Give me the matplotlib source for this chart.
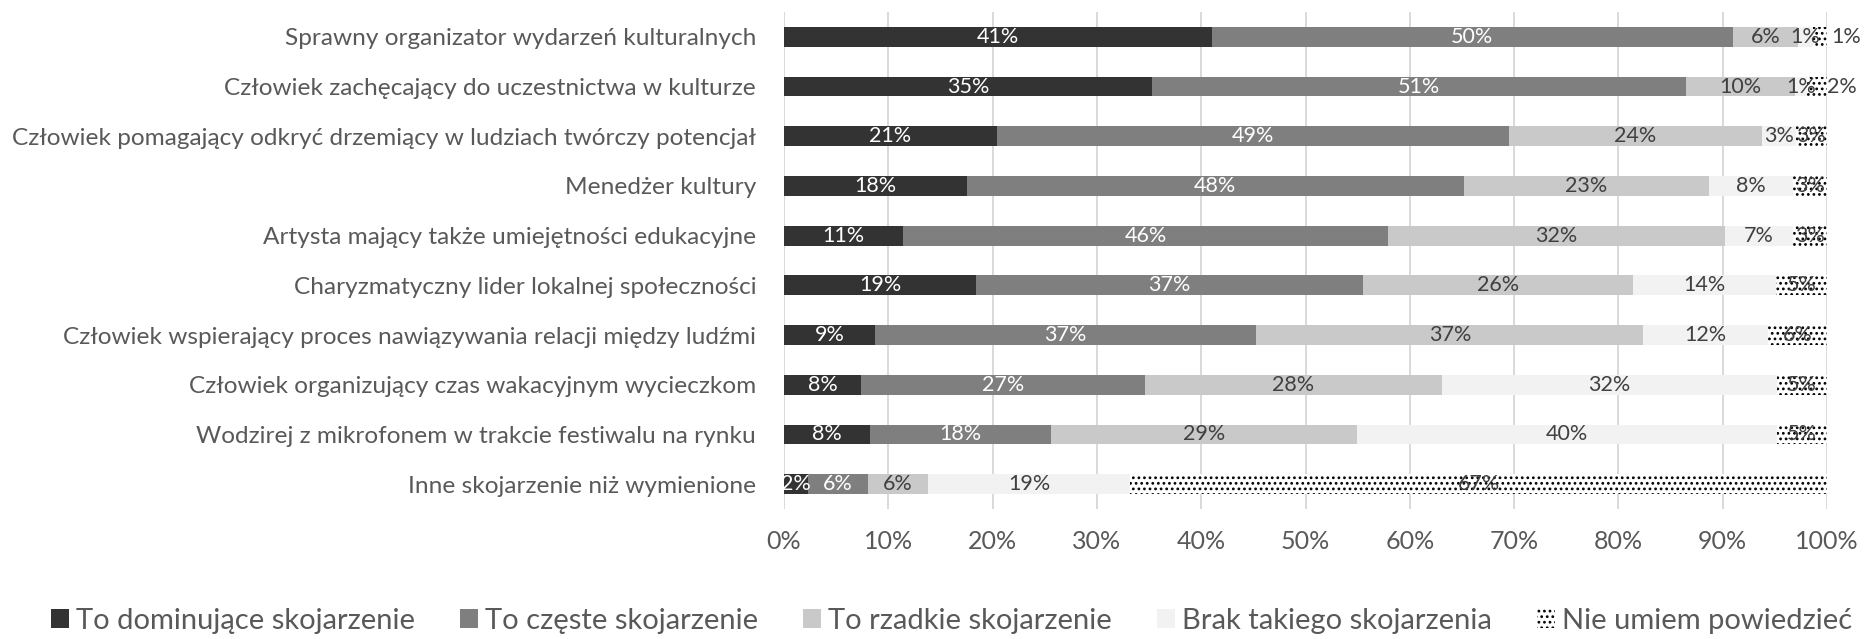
import matplotlib
matplotlib.use("Agg")
import matplotlib.pyplot as plt
import numpy as np
from matplotlib.patches import Patch

plt.rcParams['font.family'] = ['Lato', 'DejaVu Sans']
plt.rcParams['hatch.linewidth'] = 1.2

categories = [
    "Sprawny organizator wydarzeń kulturalnych",
    "Człowiek zachęcający do uczestnictwa w kulturze",
    "Człowiek pomagający odkryć drzemiący w ludziach twórczy potencjał",
    "Menedżer kultury",
    "Artysta mający także umiejętności edukacyjne",
    "Charyzmatyczny lider lokalnej społeczności",
    "Człowiek wspierający proces nawiązywania relacji między ludźmi",
    "Człowiek organizujący czas wakacyjnym wycieczkom",
    "Wodzirej z mikrofonem w trakcie festiwalu na rynku",
    "Inne skojarzenie niż wymienione",
]
series_names = ["To dominujące skojarzenie", "To częste skojarzenie",
                "To rzadkie skojarzenie", "Brak takiego skojarzenia", "Nie umiem powiedzieć"]
dominujace = [41.0, 35.3, 20.4, 17.5, 11.4, 18.4, 8.7, 7.4, 8.2, 2.3]
czeste     = [50.0, 51.2, 49.1, 47.7, 46.5, 37.1, 36.6, 27.2, 17.4, 5.8]
rzadkie    = [6.2, 10.4, 24.3, 23.5, 32.3, 25.9, 37.1, 28.5, 29.3, 5.7]
brak       = [1.5, 1.2, 3.2, 8.0, 6.5, 13.7, 11.9, 32.1, 40.3, 19.4]
nie_wiem   = [1.3, 1.9, 3.0, 3.3, 3.3, 4.9, 5.7, 4.8, 4.8, 66.8]
labels_dom = ["41%", "35%", "21%", "18%", "11%", "19%", "9%", "8%", "8%", "2%"]
labels_cz  = ["50%", "51%", "49%", "48%", "46%", "37%", "37%", "27%", "18%", "6%"]
labels_rz  = ["6%", "10%", "24%", "23%", "32%", "26%", "37%", "28%", "29%", "6%"]
labels_br  = ["1%", "1%", "3%", "8%", "7%", "14%", "12%", "32%", "40%", "19%"]
labels_nw  = ["1%", "2%", "3%", "3%", "3%", "5%", "6%", "5%", "5%", "67%"]
x_ticks = [0, 10, 20, 30, 40, 50, 60, 70, 80, 90, 100]

series = [dominujace, czeste, rzadkie, brak, nie_wiem]
series_labels = [labels_dom, labels_cz, labels_rz, labels_br, labels_nw]
colors = ["#333333", "#7f7f7f", "#c9c9c9", "#f2f2f2", "white"]
hatches = [None, None, None, None, "..."]
text_colors = ["white", "white", "#404040", "#404040", "#404040"]
# labels moved outside the bar end (row index -> offset in points)
outside_offsets = {0: 19, 1: 18}

fig = plt.figure(figsize=(18.66, 6.39), dpi=100)
ax = fig.add_axes([784/1866, 1 - 509/639, (1827-784)/1866, (509-12)/639])

y = np.arange(len(categories))
left = np.zeros(len(categories))
for k, (vals, col, h) in enumerate(zip(series, colors, hatches)):
    vals = np.array(vals)
    bars = ax.barh(y, vals, left=left, height=0.4, color=col, hatch=h,
                   edgecolor="black" if h else col, linewidth=0, zorder=3)
    for i, b in enumerate(bars):
        cx = left[i] + vals[i] / 2
        if k == 4 and i in outside_offsets:
            ax.annotate(series_labels[k][i], xy=(cx, y[i]), xytext=(outside_offsets[i], 0),
                        textcoords="offset points", ha="center", va="center",
                        fontsize=15.5, color=text_colors[k], zorder=5)
        else:
            ax.text(cx, y[i], series_labels[k][i], ha="center", va="center",
                    fontsize=15.5, color=text_colors[k], zorder=5)
    left += vals

ax.set_xlim(0, 100)
ax.set_ylim(len(categories) - 0.5, -0.5)
ax.set_yticks(y)
ax.set_yticklabels(categories, fontsize=17.6, color="#595959")
ax.set_xticks(x_ticks)
ax.set_xticklabels([f"{t}%" for t in x_ticks], fontsize=18, color="#595959")
ax.tick_params(length=0)
ax.tick_params(axis="x", pad=15)
ax.tick_params(axis="y", pad=20)
ax.grid(axis="x", color="#d9d9d9", linewidth=1.4, zorder=0)
for s in ax.spines.values():
    s.set_visible(False)

handles = [Patch(facecolor=c, hatch=h, edgecolor="black" if h else c, linewidth=0)
           for c, h in zip(colors, hatches)]
fig.legend(handles, series_names, loc="center", bbox_to_anchor=(0.510, 1 - 621/639),
           ncol=5, frameon=False, fontsize=21, labelcolor="#595959",
           handlelength=0.6, handleheight=0.6, handletextpad=0.25, columnspacing=1.55)

fig.savefig("out.png", dpi=100)
